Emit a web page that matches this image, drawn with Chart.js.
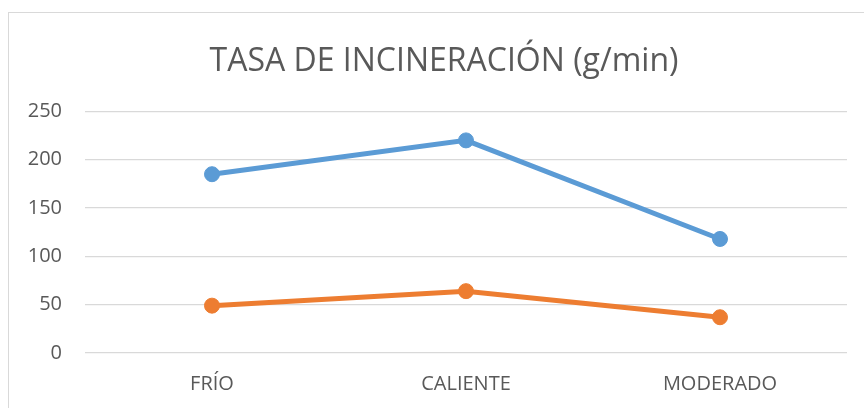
<!DOCTYPE html>
<html>
<head>
<meta charset="utf-8">
<script src="https://cdn.jsdelivr.net/npm/chart.js@4"></script>
<style>
  html, body { margin: 0; padding: 0; background: #fff; overflow: hidden; width: 864px; height: 408px; }
  #box {
    position: absolute; left: 8px; top: 12px;
    width: 870px; height: 420px;
    border: 1px solid #d9d9d9;
  }
  #chart { display: block; }
</style>
</head>
<body>
<div id="box"><canvas id="chart" width="870" height="420"></canvas></div>
<script>
// categorías y series
const categorias = ['FRÍO', 'CALIENTE', 'MODERADO'];
const serieAzul = [185, 220, 118];
const serieNaranja = [49, 64, 37];
const yTicks = [0, 50, 100, 150, 200, 250];

const textColor = '#595959';
const gridColor = '#d9d9d9';
const fontFamily = '"Open Sans", sans-serif';

new Chart(document.getElementById('chart'), {
  type: 'line',
  data: {
    labels: categorias,
    datasets: [
      {
        data: serieAzul,
        borderColor: '#5B9BD5',
        backgroundColor: '#5B9BD5',
        borderWidth: 5,
        pointRadius: 7.5,
        pointBorderWidth: 1,
        tension: 0,
        fill: false
      },
      {
        data: serieNaranja,
        borderColor: '#ED7D31',
        backgroundColor: '#ED7D31',
        borderWidth: 5,
        pointRadius: 7.5,
        pointBorderWidth: 1,
        tension: 0,
        fill: false
      }
    ]
  },
  options: {
    responsive: false,
    animation: false,
    layout: { padding: { left: 0, right: 0, top: 0, bottom: 39 } },
    plugins: {
      legend: { display: false },
      tooltip: { enabled: false },
      title: {
        display: true,
        text: 'TASA DE INCINERACIÓN (g/min)',
        color: textColor,
        font: { family: fontFamily, size: 32, weight: 'normal', lineHeight: 1.2 },
        padding: { top: 30, bottom: 30 }
      }
    },
    scales: {
      x: {
        offset: true,
        afterFit: (scale) => { scale.height = 41; },
        grid: { display: false, drawTicks: false },
        border: { display: false },
        ticks: {
          color: textColor,
          padding: 19,
          font: { family: fontFamily, size: 20 }
        }
      },
      y: {
        min: 0,
        max: 250,
        afterBuildTicks: (scale) => { scale.ticks = yTicks.map(v => ({ value: v })); },
        afterFit: (scale) => { scale.width = 76; },
        grid: { color: gridColor, lineWidth: 1.3, drawTicks: false },
        border: { display: false },
        ticks: {
          color: textColor,
          padding: 23,
          font: { family: fontFamily, size: 20 }
        }
      },
      // eje derecho vacío para reservar el margen
      yDer: {
        position: 'right',
        display: true,
        afterFit: (scale) => { scale.width = 32; },
        grid: { display: false, drawTicks: false },
        border: { display: false },
        ticks: { display: false }
      }
    }
  }
});
</script>
</body>
</html>
